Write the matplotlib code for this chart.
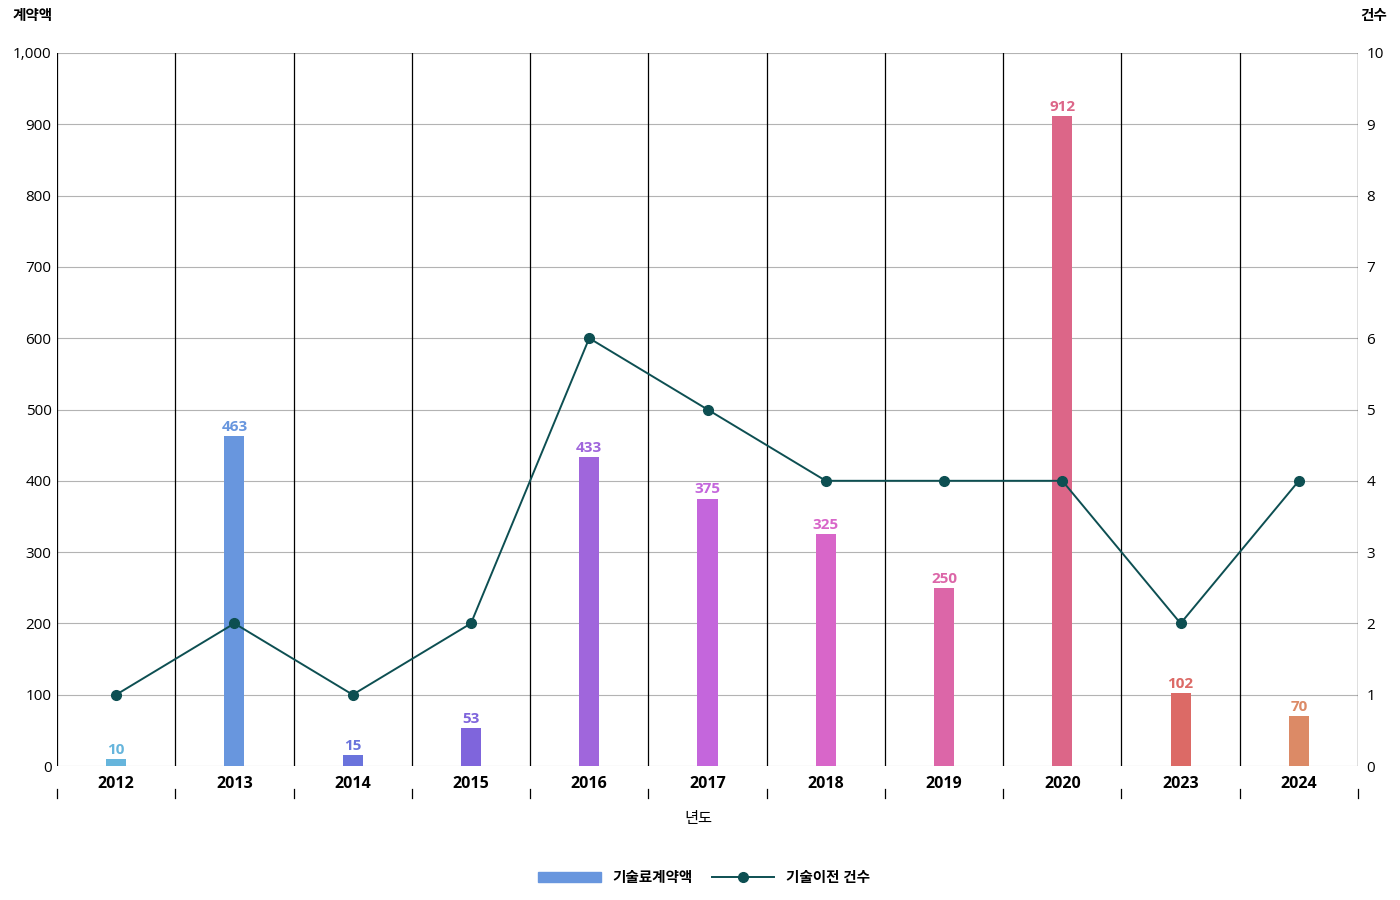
import matplotlib.pyplot as plt
from matplotlib.patches import Patch
from matplotlib.lines import Line2D

plt.rcParams["font.family"] = ["Open Sans", "Noto Sans CJK KR", "DejaVu Sans"]
plt.rcParams["font.size"] = 10

years = ["2012", "2013", "2014", "2015", "2016", "2017", "2018", "2019", "2020", "2023", "2024"]
amounts = [10, 463, 15, 53, 433, 375, 325, 250, 912, 102, 70]
counts = [1, 2, 1, 2, 6, 5, 4, 4, 4, 2, 4]
bar_colors = ["#66b5dc", "#6896de", "#6a73dc", "#7f65dc", "#a066dc", "#c466dc",
              "#d866c9", "#dc66a8", "#dc6688", "#dc6a66", "#dc8a66"]
line_color = "#0d4f52"

fig = plt.figure(figsize=(14, 9), dpi=100)
ax = fig.add_axes([57 / 1400, 1 - 766 / 900, (1358 - 57) / 1400, (766 - 53) / 900])
ax2 = ax.twinx()

n = len(years)
x = list(range(n))
ax.bar(x, amounts, width=0.17, color=bar_colors, zorder=3)
for xi, v, c in zip(x, amounts, bar_colors):
    ax.text(xi, v + 3, str(v), ha="center", va="bottom", color=c,
            fontsize=11, fontweight="bold", zorder=4)

ax.set_xlim(-0.5, n - 0.5)
ax.set_ylim(0, 1000)
ax.set_yticks(range(0, 1001, 100))
ax.set_yticklabels([f"{v:,}" for v in range(0, 1001, 100)])
ax.yaxis.grid(True, color="#b3b3b3", linewidth=0.8, zorder=0)
ax.set_axisbelow(True)
for b in range(n + 1):
    ax.axvline(b - 0.5, color="black", linewidth=0.9, zorder=1)
    ax.plot([b - 0.5, b - 0.5], [-0.032, -0.045], transform=ax.get_xaxis_transform(),
            color="black", linewidth=0.9, clip_on=False)
ax.set_xticks(x)
ax.set_xticklabels(years, fontweight="bold", fontsize=11.5)
ax.tick_params(axis="x", length=0, pad=7)
ax.tick_params(axis="y", length=0, pad=4, labelsize=11)
for s in ax.spines.values():
    s.set_visible(False)
for s in ax2.spines.values():
    s.set_visible(False)

ax2.plot(x, counts, color=line_color, linewidth=1.4, marker="o", markersize=7, zorder=5)
ax2.set_ylim(0, 10)
ax2.set_yticks(range(0, 11))
ax2.tick_params(axis="y", length=0, pad=6, labelsize=11)

fig.text(13 / 1400, 1 - 16 / 900, "계약액", fontsize=10.5, fontweight="bold", va="center")
fig.text(1387 / 1400, 1 - 16 / 900, "건수", fontsize=10.5, fontweight="bold", va="center", ha="right")
fig.text(698 / 1400, 1 - 820 / 900, "년도", fontsize=11, ha="center", va="center")

handles = [Patch(color="#6896de"),
           Line2D([0], [0], color=line_color, linewidth=1.4, marker="o", markersize=7)]
fig.legend(handles, ["기술료계약액", "기술이전 건수"], loc="center", ncol=2,
           bbox_to_anchor=(704 / 1400, 1 - 878 / 900), frameon=False,
           prop={"weight": "bold", "size": 10.5}, handlelength=4.3, columnspacing=1.3)

fig.savefig("out.png")
